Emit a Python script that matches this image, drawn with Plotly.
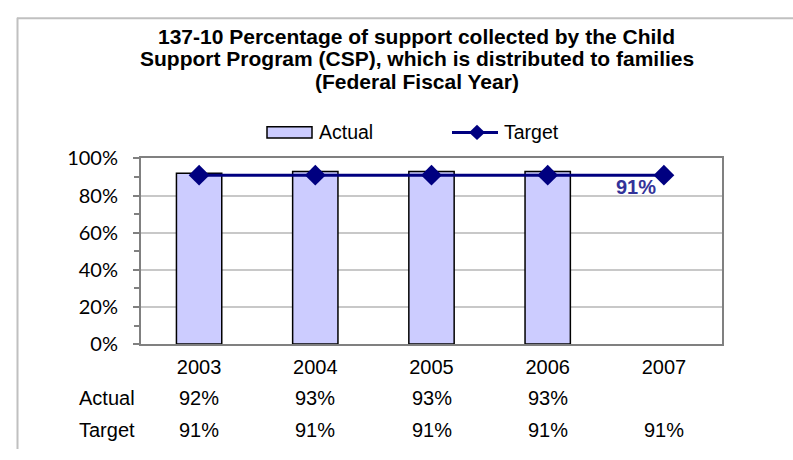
import plotly.graph_objects as go

# Data
years = ["2003", "2004", "2005", "2006", "2007"]
actual = [0.92, 0.93, 0.93, 0.93, None]
target = [0.91, 0.91, 0.91, 0.91, 0.91]
y_ticks = [0, 0.2, 0.4, 0.6, 0.8, 1.0]
title_lines = [
    "137-10 Percentage of support collected by the Child",
    "Support Program (CSP), which is distributed to families",
    "(Federal Fiscal Year)",
]

W, H = 793, 460
FONT = "Liberation Sans, Arial, sans-serif"
TICKFONT = "Lato, Liberation Sans, sans-serif"

# plot area in pixels
PL, PR, PT, PB = 141, 722, 153.5, 349.3

def px(x):
    return x / W

def py(y):
    return 1 - y / H

xpos = list(range(len(years)))

fig = go.Figure()

fig.add_trace(go.Bar(
    x=xpos, y=actual, width=0.39,
    marker=dict(color="#CCCCFF", line=dict(color="#000000", width=1.5)),
    showlegend=False, hoverinfo="skip",
))

fig.add_trace(go.Scatter(
    x=xpos, y=target, mode="lines+markers",
    line=dict(color="#000080", width=3),
    marker=dict(symbol="diamond", size=16, color="#000080"),
    showlegend=False, hoverinfo="skip", cliponaxis=False,
))

annotations = []

# title, one annotation per line
for i, line in enumerate(title_lines):
    annotations.append(dict(
        text="<b>%s</b>" % line,
        x=px(417), y=py(24.5 + 24 * i), xref="paper", yref="paper",
        xanchor="center", yanchor="middle", showarrow=False,
        font=dict(family=FONT, size=21, color="#000000"),
    ))

# value label on the last target point
annotations.append(dict(
    text="<b>%d%%</b>" % round(target[-1] * 100),
    x=xpos[-1], y=target[-1], xref="x", yref="y",
    xshift=-28, yshift=-12, showarrow=False,
    font=dict(family=FONT, size=20, color="#333399"),
))

# data table beneath the axis
row_y = {"Actual": 406, "Target": 440}
for name, vals in (("Actual", actual), ("Target", target)):
    annotations.append(dict(
        text=name, x=px(77), y=py(row_y[name]), xref="paper", yref="paper",
        xanchor="left", yanchor="middle", showarrow=False,
        font=dict(family=FONT, size=20, color="#000000"),
    ))
    for xp, v in zip(xpos, vals):
        if v is None:
            continue
        annotations.append(dict(
            text="%d%%" % round(v * 100), x=xp, y=py(row_y[name]),
            xref="x", yref="paper", xanchor="center", yanchor="middle",
            showarrow=False, font=dict(family=FONT, size=20, color="#000000"),
        ))

# legend
LY = 126
annotations.append(dict(
    text="Actual", x=px(317), y=py(LY), xref="paper", yref="paper",
    xanchor="left", yanchor="middle", showarrow=False,
    font=dict(family=FONT, size=19.5, color="#000000"),
))
annotations.append(dict(
    text="Target", x=px(502), y=py(LY), xref="paper", yref="paper",
    xanchor="left", yanchor="middle", showarrow=False,
    font=dict(family=FONT, size=19.5, color="#000000"),
))

shapes = [
    # chart frame
    dict(type="line", xref="paper", yref="paper", x0=px(17), x1=1.0,
         y0=py(5.5), y1=py(5.5), line=dict(color="#C0C0C0", width=2)),
    dict(type="line", xref="paper", yref="paper", x0=px(17.5), x1=px(17.5),
         y0=py(5), y1=0, line=dict(color="#C0C0C0", width=2)),
    # legend keys
    dict(type="rect", xref="paper", yref="paper", x0=px(267), x1=px(312),
         y0=py(LY - 6), y1=py(LY + 6), fillcolor="#CCCCFF",
         line=dict(color="#000000", width=1.5)),
    dict(type="line", xref="paper", yref="paper", x0=px(452), x1=px(498),
         y0=py(LY), y1=py(LY), line=dict(color="#000080", width=3)),
    dict(type="path", xref="paper", yref="paper",
         path="M %f %f L %f %f L %f %f L %f %f Z" % (
             px(477), py(LY - 8), px(485), py(LY), px(477), py(LY + 8), px(469), py(LY)),
         fillcolor="#000080", line=dict(color="#000080", width=0)),
]

fig.update_layout(
    width=W, height=H,
    margin=dict(l=0, r=0, t=0, b=0),
    paper_bgcolor="#FFFFFF", plot_bgcolor="#FFFFFF",
    annotations=annotations, shapes=shapes,
    xaxis=dict(
        domain=[px(PL), px(PR)], range=[-0.5, len(years) - 0.5],
        tickvals=xpos, ticktext=years,
        showgrid=False, showline=True, linecolor="#808080", linewidth=2,
        mirror=True, ticks="", zeroline=False,
        tickfont=dict(family=FONT, size=20, color="#000000"),
        ticklabelstandoff=4,
    ),
    yaxis=dict(
        domain=[py(PB), py(PT)], range=[0, 1],
        tickvals=y_ticks, tickformat=".0%",
        showgrid=True, gridcolor="#C8C8C8", gridwidth=1.5,
        showline=True, linecolor="#808080", linewidth=2, mirror=True,
        ticks="outside", ticklen=6, tickcolor="#808080", tickwidth=1.5,
        minor=dict(dtick=0.1, tick0=0, ticks="outside", ticklen=5,
                   tickcolor="#808080", tickwidth=1.5, showgrid=False),
        tickfont=dict(family=TICKFONT, size=20, color="#000000"),
        ticklabelstandoff=11,
        zeroline=False,
    ),
)

fig.write_html("out.html")
